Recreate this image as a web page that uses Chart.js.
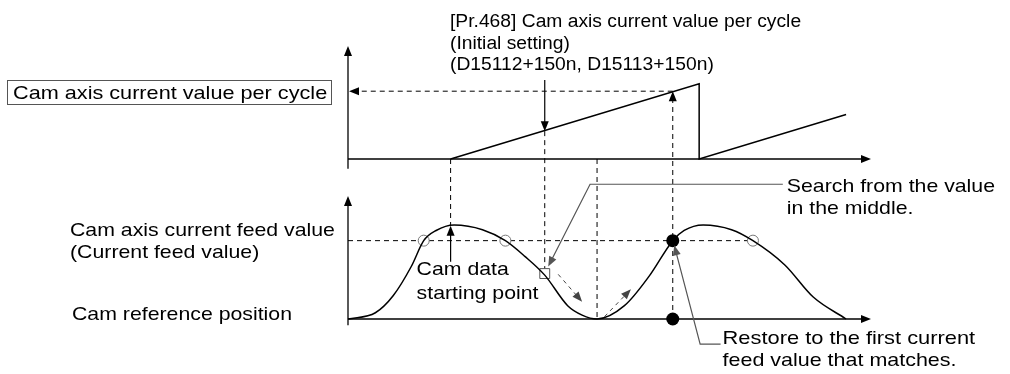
<!DOCTYPE html>
<html><head><meta charset="utf-8">
<script src="https://cdn.jsdelivr.net/npm/chart.js@4.4.1/dist/chart.umd.min.js"></script>
<style>html,body{margin:0;padding:0;background:#fff;}canvas{display:block}</style>
</head><body>
<canvas id="c" width="1010" height="374"></canvas>
<script>
// ---------- data ----------
// top: cam axis current value per cycle (ramp, reset, ramp)
const cycleX = [20.6, 70.5, 70.5, 100];
const cycleY = [0, 100, 0, 59];
// bottom: cam axis current feed value
const feedX = [0, 5.5, 9.1, 12.7, 15.2, 17.7, 21.3, 27, 31.6, 35.5, 39.5, 44.1, 47, 50, 55.5, 60.5, 65.2, 67.5, 71.3, 77, 81.3, 87.7, 93.4, 100];
const feedY = [0, 8, 30, 67, 100, 113, 120, 114, 100, 80, 56, 17, 5, 0, 17, 55, 100, 113, 120, 114, 100, 69, 28, 0];
// markers
const matchLevel = 100;                 // current feed value
const openCircleX = [15.2, 31.6, 81.3]; // matching candidates
const searchX = 39.5, searchY = 58;     // search start (value in the middle)
const restoreX = 65.2;                  // first matching value
const camStartX = 20.6, camPeakY = 120;
const minX = 50;
const initialSettingY = 37;             // ramp value at the initial setting
const restoredCycleY = 90;              // restored cycle value
// texts
const titleLines = ["[Pr.468] Cam axis current value per cycle", "(Initial setting)", "(D15112+150n, D15113+150n)"];
const boxLabel = "Cam axis current value per cycle";
const feedLabel = ["Cam axis current feed value", "(Current feed value)"];
const refLabel = "Cam reference position";
const startLabel = ["Cam data", "starting point"];
const searchLabel = ["Search from the value", "in the middle."];
const restoreLabel = ["Restore to the first current", "feed value that matches."];

const FONT_T = '18px "Liberation Sans", Arial, sans-serif';
const FONT_L = '19px "Liberation Sans", Arial, sans-serif';

function pts(xs, ys) { return xs.map((x, i) => ({x, y: ys[i]})); }

function arrowHead(ctx, x1, y1, x2, y2, len, w) {
  len = len || 10; w = w || 4;
  const a = Math.atan2(y2 - y1, x2 - x1);
  const c = Math.cos(a), s = Math.sin(a);
  ctx.beginPath();
  ctx.moveTo(x2, y2);
  ctx.lineTo(x2 - len * c + w * s, y2 - len * s - w * c);
  ctx.lineTo(x2 - len * c - w * s, y2 - len * s + w * c);
  ctx.closePath();
  ctx.fill();
}
function seg(ctx, p, dash, color, width, arrow, alen, aw) {
  ctx.save();
  ctx.strokeStyle = color; ctx.fillStyle = color; ctx.lineWidth = width;
  ctx.setLineDash(dash || []);
  ctx.beginPath();
  const n = p.length;
  let ex = p[n-1][0], ey = p[n-1][1];
  if (arrow) {
    const a = Math.atan2(ey - p[n-2][1], ex - p[n-2][0]);
    ex -= Math.cos(a) * (alen || 10) * 0.7; ey -= Math.sin(a) * (alen || 10) * 0.7;
  }
  ctx.moveTo(p[0][0], p[0][1]);
  for (let i = 1; i < n - 1; i++) ctx.lineTo(p[i][0], p[i][1]);
  ctx.lineTo(ex, ey);
  ctx.stroke();
  ctx.setLineDash([]);
  if (arrow) arrowHead(ctx, p[n-2][0], p[n-2][1], p[n-1][0], p[n-1][1], alen, aw);
  ctx.restore();
}
function txt(ctx, s, x, y, sx) {
  ctx.save(); ctx.translate(x, y); ctx.scale(sx, 1); ctx.fillText(s, 0, 0); ctx.restore();
}

const diagram = {
  id: 'diagram',
  beforeDatasetsDraw(chart) {
    const ctx = chart.ctx, X = chart.scales.x, T = chart.scales.yTop, B = chart.scales.yBot;
    const px = v => X.getPixelForValue(v), pt = v => T.getPixelForValue(v), pb = v => B.getPixelForValue(v);
    // axes
    seg(ctx, [[px(0), pt(-13)], [px(0), pt(T.max)]], null, '#000', 1.3, true, 10, 4);
    seg(ctx, [[px(0), pt(0)], [px(X.max), pt(0)]], null, '#000', 1.3, true, 10, 4);
    seg(ctx, [[px(0), pb(-8)], [px(0), pb(B.max)]], null, '#000', 1.3, true, 10, 4);
    seg(ctx, [[px(0), pb(0)], [px(X.max), pb(0)]], null, '#000', 1.3, true, 10, 4);
    const D = [5, 4];
    // dashed guides
    seg(ctx, [[px(restoreX), pt(restoredCycleY)], [px(0) + 1, pt(restoredCycleY)]], D, '#000', 1, true, 10, 4);
    seg(ctx, [[px(camStartX), pt(0)], [px(camStartX), pb(camPeakY)]], D, '#000', 1);
    seg(ctx, [[px(searchX), pt(initialSettingY)], [px(searchX), pb(searchY)]], D, '#000', 1);
    seg(ctx, [[px(minX), pt(0)], [px(minX), pb(0)]], D, '#000', 1);
    seg(ctx, [[px(restoreX), pb(0)], [px(restoreX), pt(restoredCycleY)]], D, '#000', 1, true, 10, 4);
    seg(ctx, [[px(0), pb(matchLevel)], [px(82), pb(matchLevel)]], D, '#000', 1);
    // search direction arrows
    seg(ctx, [[px(42.2), pb(57)], [px(47), pb(22)]], [4, 4], '#444', 1, true, 10, 4);
    seg(ctx, [[px(51.5), pb(3)], [px(56.8), pb(38)]], [4, 4], '#444', 1, true, 10, 4);
  },
  afterDatasetsDraw(chart) {
    const ctx = chart.ctx, X = chart.scales.x, T = chart.scales.yTop, B = chart.scales.yBot;
    const px = v => X.getPixelForValue(v), pt = v => T.getPixelForValue(v), pb = v => B.getPixelForValue(v);
    // initial setting arrow
    seg(ctx, [[px(searchX), pt(105)], [px(searchX), pt(initialSettingY)]], null, '#000', 1.2, true, 10, 4);
    // cam data starting point arrow
    seg(ctx, [[px(camStartX), pb(73)], [px(camStartX), pb(camPeakY - 1)]], null, '#000', 1.2, true, 10, 4);
    // leaders
    seg(ctx, [[px(87.3), pb(172)], [px(48.6), pb(172)], [px(40.2), pb(67)]], null, '#555', 1.2, true, 10, 4);
    seg(ctx, [[px(74.8), pb(-32)], [px(70.7), pb(-32)], [px(restoreX + 0.3), pb(matchLevel - 6)]], null, '#555', 1.2, true, 10, 4);
    // texts
    ctx.save();
    ctx.fillStyle = '#000'; ctx.textBaseline = 'alphabetic';
    ctx.font = FONT_T;
    txt(ctx, titleLines[0], 450, 27, 1.07);
    txt(ctx, titleLines[1], 450, 49, 1.07);
    txt(ctx, titleLines[2], 450, 70, 1.07);
    ctx.font = FONT_L;
    ctx.strokeStyle = '#555'; ctx.lineWidth = 1;
    ctx.strokeRect(7.5, 80.5, 324, 24);
    const S = 1.12;
    txt(ctx, boxLabel, 13, 99, 1.14);
    txt(ctx, feedLabel[0], 70, 236, S);
    txt(ctx, feedLabel[1], 70, 258, S);
    txt(ctx, refLabel, 72, 320, S);
    txt(ctx, startLabel[0], px(camStartX) - 34, 275, S);
    txt(ctx, startLabel[1], px(camStartX) - 34, 299, S);
    txt(ctx, searchLabel[0], px(87.3) + 4, 192, S);
    txt(ctx, searchLabel[1], px(87.3) + 4, 214, S);
    txt(ctx, restoreLabel[0], px(74.8) + 2, 344, 1.15);
    txt(ctx, restoreLabel[1], px(74.8) + 2, 366, 1.13);
    ctx.restore();
  }
};

new Chart(document.getElementById('c'), {
  type: 'line',
  data: {
    datasets: [
      { data: pts(cycleX, cycleY), yAxisID: 'yTop', borderColor: '#000', borderWidth: 1.5, pointRadius: 0, tension: 0, clip: false },
      { data: pts(feedX, feedY), yAxisID: 'yBot', borderColor: '#000', borderWidth: 1.5, pointRadius: 0, cubicInterpolationMode: 'monotone', clip: false },
      { data: openCircleX.map(x => ({x, y: matchLevel})), yAxisID: 'yBot', showLine: false, pointRadius: 5.5, pointBorderColor: '#777', pointBackgroundColor: '#fff', pointBorderWidth: 1, clip: false },
      { data: [{x: searchX, y: searchY}], yAxisID: 'yBot', showLine: false, pointStyle: 'rect', pointRadius: 7, pointBorderColor: '#555', pointBackgroundColor: '#fff', pointBorderWidth: 1, clip: false },
      { data: [{x: restoreX, y: matchLevel}, {x: restoreX, y: 0}], yAxisID: 'yBot', showLine: false, pointRadius: 6.5, pointBorderColor: '#000', pointBackgroundColor: '#000', pointBorderWidth: 0, clip: false }
    ]
  },
  options: {
    responsive: false, animation: false, devicePixelRatio: 1,
    layout: { padding: { left: 348, right: 139, top: 46, bottom: 55 } },
    plugins: { legend: { display: false }, tooltip: { enabled: false } },
    events: [],
    scales: {
      x: { type: 'linear', min: 0, max: 105, display: false },
      yBot: { type: 'linear', min: 0, max: 157, display: false, position: 'left', stack: 's', stackWeight: 123 },
      yGap: { type: 'linear', min: 0, max: 1, display: false, position: 'left', stack: 's', stackWeight: 37 },
      yTop: { type: 'linear', min: 0, max: 150, display: false, position: 'left', stack: 's', stackWeight: 113 }
    }
  },
  plugins: [diagram]
});
</script>
</body></html>
